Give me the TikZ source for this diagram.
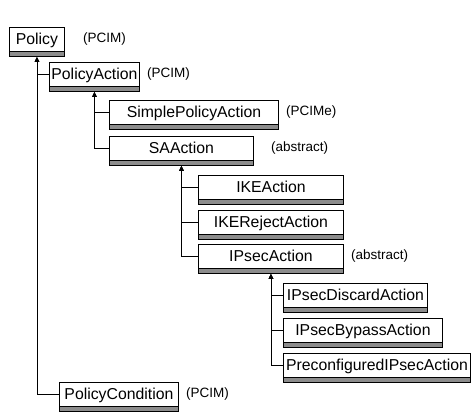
\documentclass[tikz,border=0pt]{standalone}
\usepackage{fontspec}
\setmainfont{Liberation Sans}
\usetikzlibrary{arrows.meta}

\begin{document}
\begin{tikzpicture}[x=1pt, y=-1pt]

% --- Define Styles ---
\tikzset{
    cls/.style={draw, line width=0.9pt, fill=white, anchor=north west, inner sep=0pt,
        minimum height=29pt, text height=17.5pt, text depth=11.5pt,
        font=\fontsize{15.8}{17}\selectfont,
        path picture={
            \fill[black!45] (path picture bounding box.south west) rectangle ([yshift=5pt]path picture bounding box.south east);
            \draw[line width=0.9pt] ([yshift=5pt]path picture bounding box.south west) -- ([yshift=5pt]path picture bounding box.south east);
        }},
    note/.style={anchor=west, inner sep=0pt, font=\fontsize{13.5}{15}\selectfont},
    inh/.style={-{Triangle[length=5pt, width=4.5pt]}, line width=0.9pt}
}

\useasboundingbox (0,0) rectangle (471,413);

% ================= classes =================
\node[cls, minimum width=55pt]  (policy)       at (9,27)   {Policy};
\node[cls, minimum width=90pt]  (policyaction) at (49,62)  {PolicyAction};
\node[cls, minimum width=169pt] (simpleaction) at (109,100) {SimplePolicyAction};
\node[cls, minimum width=144pt] (saaction)     at (109,136) {SAAction};
\node[cls, minimum width=145pt] (ikeaction)    at (198,175) {IKEAction};
\node[cls, minimum width=145pt] (ikereject)    at (198,210) {IKERejectAction};
\node[cls, minimum width=145pt] (ipsecaction)  at (198,244) {IPsecAction};
\node[cls, minimum width=144pt] (ipsecdiscard) at (283,283) {IPsecDiscardAction};
\node[cls, minimum width=159pt] (ipsecbypass)  at (283,318) {IPsecBypassAction};
\node[cls, minimum width=187pt] (preconfipsec) at (283,353) {PreconfiguredIPsecAction};
\node[cls, minimum width=119pt] (policycond)   at (59,382) {PolicyCondition};

% ================= notes =================
\node[note] (policy-n)       at ([xshift=18pt, yshift=2.5pt]policy.east)       {(PCIM)};
\node[note] (policyaction-n) at ([xshift=7pt, yshift=2.5pt]policyaction.east)  {(PCIM)};
\node[note] (simpleaction-n) at ([xshift=7pt, yshift=2.5pt]simpleaction.east)  {(PCIMe)};
\node[note] (saaction-n)     at ([xshift=17pt, yshift=2.5pt]saaction.east)     {(abstract)};
\node[note] (ipsecaction-n)  at ([xshift=7pt, yshift=2.5pt]ipsecaction.east)   {(abstract)};
\node[note] (policycond-n)   at ([xshift=7pt, yshift=2.5pt]policycond.east)    {(PCIM)};

% ================= inheritance =================
\foreach \child/\parent in {policyaction/policy, policycond/policy,
        simpleaction/policyaction, saaction/policyaction,
        ikeaction/saaction, ikereject/saaction, ipsecaction/saaction,
        ipsecdiscard/ipsecaction, ipsecbypass/ipsecaction, preconfipsec/ipsecaction}
    \draw[inh] ([yshift=2.5pt]\child.west) -| (\parent.south);

\end{tikzpicture}
\end{document}
